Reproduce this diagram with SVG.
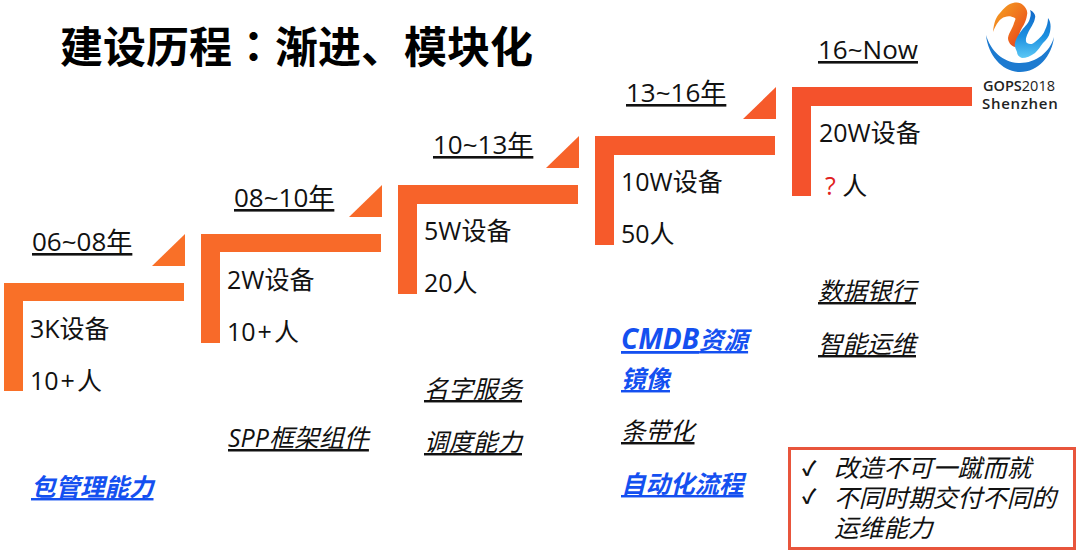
<svg xmlns="http://www.w3.org/2000/svg" width="1080" height="552" viewBox="0 0 1080 552">
<defs>
<linearGradient id="warm" x1="0" y1="0" x2="1" y2="1"><stop offset="0" stop-color="#f5a623"/><stop offset="0.5" stop-color="#f0741e"/><stop offset="1" stop-color="#e63a1c"/></linearGradient>
<linearGradient id="cool" x1="0.5" y1="0" x2="0.5" y2="1"><stop offset="0" stop-color="#1268c8"/><stop offset="0.55" stop-color="#1b8fe0"/><stop offset="1" stop-color="#5cc8f5"/></linearGradient>
</defs>
<style>
text{font-family:"Open Sans","Noto Sans CJK SC",sans-serif;fill:#111}
.cjk{font-family:"Noto Sans CJK SC",sans-serif}
.tc{font-family:"Noto Sans CJK TC",sans-serif}
.title{font-size:43px;font-weight:700;fill:#000}
.date{font-size:26px;text-decoration:underline}
.info{font-size:25px}
.cap{font-size:24.500px;font-style:italic;text-decoration:underline}
.hi{font-weight:700;fill:#1450f0}
.note{font-size:24.700px;font-style:italic}
.mark{font-size:20px;font-weight:700}
.logo{font-family:"Open Sans",sans-serif;fill:#222;font-weight:600}
</style>
<rect width="1080" height="552" fill="#fff"/>
<text class="title cjk" x="60" y="63">建设历程<tspan class="tc">：</tspan>渐进、模块化</text>
<g id="step1">
<path fill="#f97028" d="M4 283H184V301H23V391H4Z"/><path fill="#f97028" d="M185 234V266H152Z"/>
<text class="date" x="32" y="251">06~08年</text><text class="info" x="30" y="338">3K设备</text><text class="info" x="30" y="390">10<tspan dx="2">+</tspan><tspan dx="2">人</tspan></text>
<text class="cap hi" x="31" y="496">包管理能力</text>
</g>
<g id="step2">
<path fill="#f86a29" d="M201 234H381V252H220V343H201Z"/><path fill="#f86a29" d="M382 185V217H349Z"/>
<text class="date" x="234" y="207">08~10年</text><text class="info" x="227" y="289">2W设备</text><text class="info" x="227" y="341">10<tspan dx="2">+</tspan><tspan dx="2">人</tspan></text>
<text class="cap" x="228" y="447" style="font-size:25px">SPP框架组件</text>
</g>
<g id="step3">
<path fill="#f7632a" d="M398 185H578V204H417V294H398Z"/><path fill="#f7632a" d="M579 136V168H546Z"/>
<text class="date" x="433" y="154">10~13年</text><text class="info" x="424" y="240">5W设备</text><text class="info" x="424" y="292">20人</text>
<text class="cap" x="424" y="398">名字服务</text><text class="cap" x="424" y="451">调度能力</text>
</g>
<g id="step4">
<path fill="#f65a2b" d="M595 136H775V155H614V245H595Z"/><path fill="#f65a2b" d="M776 87V119H743Z"/>
<text class="date" x="626" y="102">13~16年</text><text class="info" x="621" y="191">10W设备</text><text class="info" x="621" y="243">50人</text>
<text class="cap hi" x="621" y="349"><tspan style="font-size:28px">CMDB</tspan>资源</text><text class="cap hi" x="621" y="388">镜像</text><text class="cap" x="621" y="440">条带化</text><text class="cap hi" x="621" y="493">自动化流程</text>
</g>
<g id="step5">
<path fill="#f4522c" d="M792 87H972V106H811V196H792Z"/>
<text class="date" x="818" y="59">16~Now</text><text class="info" x="819" y="142">20W设备</text>
<text class="info" x="825" y="195"><tspan fill="#e02020">?</tspan> 人</text>
<text class="cap" x="818" y="300">数据银行</text><text class="cap" x="818" y="353">智能运维</text>
</g>
<g id="note">
<rect x="789.500" y="448.500" width="285" height="100" fill="#fff" stroke="#e8553c" stroke-width="3"/>
<text class="mark" x="802" y="476">✓</text><text class="mark" x="802" y="504">✓</text>
<text class="note" x="834" y="477">改造不可一蹴而就</text><text class="note" x="834" y="507">不同时期交付不同的</text><text class="note" x="834" y="537">运维能力</text>
</g>
<g id="logo">
<path fill="#1c7ad0" d="M986 35C988 56 1003 72 1020 72C1038 72 1052 56 1054 37C1050 52 1036 63 1020 63C1004 63 991 52 986 35Z"/>
<path fill="url(#warm)" d="M993 32C994 22 996 17 1000 13C1004 8 1008 4 1013 3C1018 2 1021 3 1023 5C1026 8 1028 11 1027 15C1026 23 1022 27 1020 32C1018 38 1017 43 1015 47C1011 46 1008 42 1008 38C1009 32 1013 28 1014 23C1015 20 1016 19 1015 18C1011 16 1008 16 1005 17C1000 18 996 24 993 32Z"/>
<path fill="url(#cool)" d="M1030 10C1034 12 1036 15 1035 18C1034 24 1030 28 1028 33C1026 37 1025 41 1027 43C1030 45 1033 44 1035 42C1040 38 1044 34 1045 30C1047 26 1048 22 1048 18C1051 22 1051 27 1050 32C1049 37 1046 40 1043 43C1040 47 1038 50 1035 53C1031 56 1026 58 1022 58C1019 57 1017 55 1017 52C1016 49 1014 46 1015 43C1016 38 1019 34 1022 30C1025 26 1029 23 1030 18C1031 15 1031 12 1030 10Z"/>
<text class="logo" x="983" y="91" font-size="14.500">GOPS<tspan font-weight="400">2018</tspan></text>
<text class="logo" x="982" y="109" font-size="15" letter-spacing="0.7">Shenzhen</text>
</g>
</svg>
